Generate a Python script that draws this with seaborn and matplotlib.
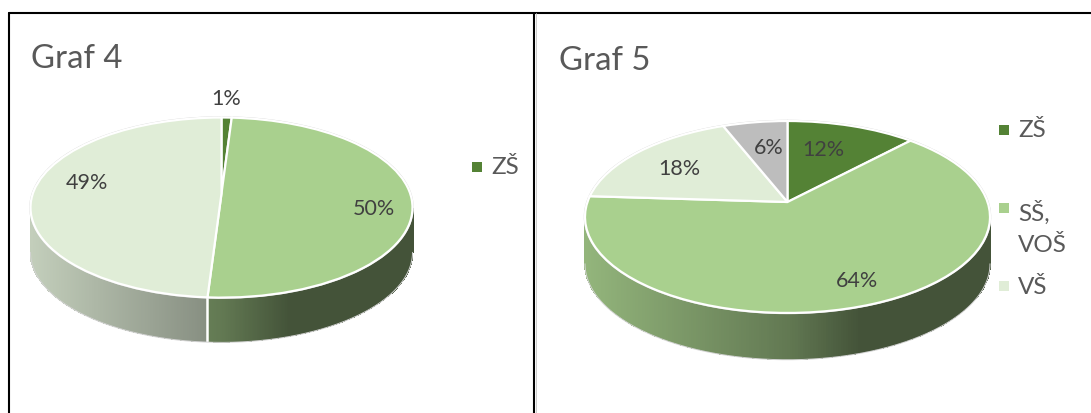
import numpy as np
import matplotlib
matplotlib.use("Agg")
import matplotlib.pyplot as plt
from matplotlib.transforms import Transform
import seaborn as sns

# ---- data ----
titles = ["Graf 4", "Graf 5"]
categories_4 = ["ZŠ", "SŠ, VOŠ", "VŠ"]
values_4 = [1, 50, 49]
categories_5 = ["ZŠ", "SŠ, VOŠ", "VŠ", "Jiné"]
values_5 = [12, 64, 18, 6]
legend_4 = ["ZŠ"]
legend_5 = ["ZŠ", "SŠ,\nVOŠ", "VŠ"]

# ---- styles / layout (pixels) ----
colors = ["#548235", "#A9D08E", "#E0EDD7", "#BDBDBD"]
W, H = 1091, 414
TITLE_C, LABEL_C = "#595959", "#404040"
P = 0.156

sns.set_theme(style="white")
plt.rcParams["font.family"] = ["Lato", "DejaVu Sans"]
fig = plt.figure(figsize=(W / 100, H / 100), dpi=100)
ax = fig.add_axes([0, 0, 1, 1])


class Tilt(Transform):
    """Perspective view of the unit pie onto the pixel axes."""
    input_dims = output_dims = 2
    is_separable = False
    has_inverse = False

    def __init__(self, cx, ay, rx, top, bottom):
        super().__init__()
        self.cx, self.ay = cx, ay
        self.A = rx * np.sqrt(1 - P ** 2)
        self.B = (ay - top) * (1 + P)

    def transform_non_affine(self, pts):
        pts = np.asarray(pts, float)
        w = 1 + P * pts[:, 1]
        return np.column_stack([self.cx + self.A * pts[:, 0] / w,
                                self.ay - self.B * pts[:, 1] / w])


def shade(n):
    return np.interp(n, [-1, 0, 0.35, 1], [0.87, 0.58, 0.40, 0.40])


def pie3d(values, cx, ay, rx, top, bottom, depth):
    tilt = Tilt(cx, ay, rx, top, bottom)
    wedges, _ = ax.pie(values, colors=colors[:len(values)], startangle=90,
                       counterclock=False,
                       wedgeprops=dict(edgecolor="white", linewidth=1.6))
    for w in wedges:
        w.set_transform(tilt + ax.transData)
        w.set_zorder(4)
    # side wall, clockwise angle measured from the top of the pie
    lo, hi = np.arccos(-P), 2 * np.pi - np.arccos(-P)
    edges = np.r_[0, np.cumsum(values)] / np.sum(values) * 2 * np.pi
    for i in range(len(values)):
        a, b = max(edges[i], lo), min(edges[i + 1], hi)
        if b <= a:
            continue
        t = np.linspace(a, b, 260)
        xy = tilt.transform_non_affine(np.column_stack([np.sin(t), np.cos(t)]))
        n = (xy[:, 0] - cx) / rx
        rgb = np.array(matplotlib.colors.to_rgb(colors[i]))
        c = np.outer(shade((n[:-1] + n[1:]) / 2), rgb)[None, :, :]
        X = np.vstack([xy[:, 0], xy[:, 0]])
        Y = np.vstack([xy[:, 1], xy[:, 1] + depth])
        ax.pcolormesh(X, Y, c, shading="flat", zorder=2, antialiased=False,
                      edgecolors="face", linewidth=0.3)
        if edges[i + 1] < hi:
            ax.plot(X[:, -1], Y[:, -1], color="white", lw=1.8, zorder=3)
    # faint outer outline
    t = np.linspace(0, 2 * np.pi, 361)
    xy = tilt.transform_non_affine(np.column_stack([np.sin(t), np.cos(t)]))
    ax.plot(xy[:, 0], xy[:, 1], color="#d4d4d4", lw=1.8, zorder=3.5)
    t = np.linspace(lo, hi, 200)
    xy = tilt.transform_non_affine(np.column_stack([np.sin(t), np.cos(t)]))
    ax.plot(xy[:, 0], xy[:, 1] + depth + 0.8, color="#d4d4d4", lw=0.7, zorder=3)


pie3d(values_4, 221.5, 194.5, 191, 118.5, 298.5, 44)
pie3d(values_5, 787.5, 203, 202.5, 122, 314, 46)

ax.set_aspect("auto")
ax.set_xlim(0, W)
ax.set_ylim(H, 0)
ax.set_frame_on(False)
ax.set_xticks([])
ax.set_yticks([])

# frames
ax.plot([8.5, W], [13.5, 13.5], color="black", lw=1.5, zorder=1)
ax.plot([8.5, 8.5], [13.5, H], color="black", lw=1.5, zorder=1)
ax.plot([533.5, 533.5], [13.5, H], color="black", lw=1.5, zorder=1)
ax.plot([535.5, 535.5], [14, H], color="#c4c4c4", lw=0.6, zorder=1)

# titles
ax.text(31, 58.5, titles[0], fontsize=23.7, color=TITLE_C, va="center", ha="left", zorder=6)
ax.text(559, 61.5, titles[1], fontsize=23.7, color=TITLE_C, va="center", ha="left", zorder=6)

# data labels
lab4 = [(226, 99), (374, 209.5), (87, 183.5)]
lab5 = [(823, 150.5), (857, 281.5), (679, 169.5), (769, 148.5)]
for v, (x, y) in zip(values_4, lab4):
    ax.text(x, y, f"{v}%", fontsize=15.5, color=LABEL_C, ha="center", va="center", zorder=6)
for v, (x, y) in zip(values_5, lab5):
    ax.text(x, y, f"{v}%", fontsize=15.5, color=LABEL_C, ha="center", va="center", zorder=6)

# legends
leg4 = [(476.5, 167.5, 491, 168)]
leg5 = [(1003.5, 131, 1018, 131), (1003.5, 209, 1018, 228), (1003.5, 287, 1018, 288)]
for lab, c, (mx, my, tx, ty) in zip(legend_4, colors, leg4):
    ax.plot([mx], [my], "s", ms=7.6, color=c, mew=0, zorder=6)
    ax.text(tx, ty, lab, fontsize=17.5, color=TITLE_C, va="center", ha="left", zorder=6)
for lab, c, (mx, my, tx, ty) in zip(legend_5, colors, leg5):
    ax.plot([mx], [my], "s", ms=7.6, color=c, mew=0, zorder=6)
    ax.text(tx, ty, lab, fontsize=17.5, color=TITLE_C, va="center", ha="left",
            linespacing=1.6, zorder=6)

fig.savefig("out.png", dpi=100, facecolor="white")
